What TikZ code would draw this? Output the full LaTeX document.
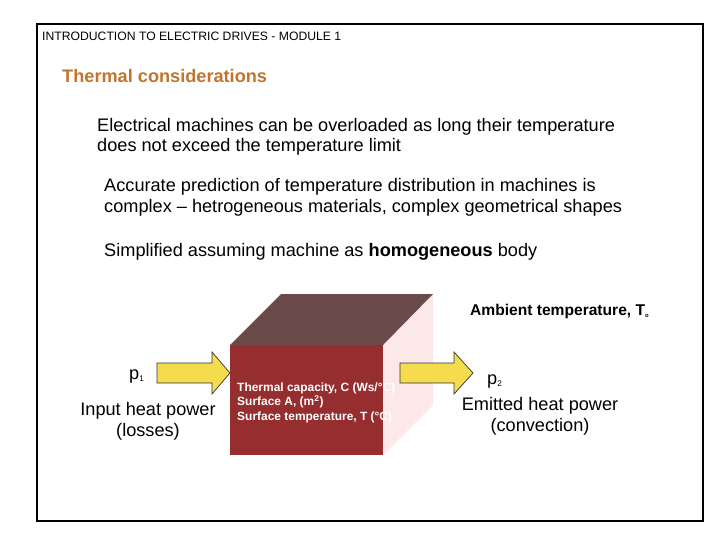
\documentclass[tikz,border=0pt]{standalone}
\usepackage{fontspec}
\setmainfont{Liberation Sans}
\definecolor{titleorange}{HTML}{C0752C}
\definecolor{frontred}{HTML}{962D2E}
\definecolor{topbrown}{HTML}{6B4A4A}
\definecolor{sidepink}{HTML}{FDE8E8}
\definecolor{arrowyellow}{HTML}{F5DB4E}
\tikzset{
    bodytext/.style = {anchor=west, inner sep=0pt, font=\fontsize{15.5}{17}\selectfont},
    smalllabel/.style = {anchor=west, inner sep=0pt, font=\bfseries\fontsize{10.2}{12.3}\selectfont, text=white, align=left},
    caption/.style = {inner sep=0pt, align=center, font=\fontsize{15.5}{18}\selectfont}
}
\begin{document}
\begin{tikzpicture}[x=0.03cm, y=-0.03cm]
            \useasboundingbox (0,0) rectangle (728,546);
            \draw[line width=1pt] (37,24) rectangle (703,521);
            \node[anchor=west, inner sep=0pt, font=\fontsize{10.4}{12}\selectfont] (header) at (42,36) {INTRODUCTION TO ELECTRIC DRIVES - MODULE 1};
            \node[anchor=west, inner sep=0pt, font=\bfseries\fontsize{15.5}{17}\selectfont, text=titleorange] (title) at (62,76) {Thermal considerations};
            \node[bodytext] (lineA) at (97,127) {Electrical machines can be overloaded as long their temperature};
            \node[bodytext] (lineB) at (97,147) {does not exceed the temperature limit};
            \node[bodytext] (lineC) at (104,187) {Accurate prediction of temperature distribution in machines is};
            \node[bodytext] (lineD) at (104,208) {complex -- hetrogeneous materials, complex geometrical shapes};
            \node[bodytext] (lineE) at (104,252) {Simplified assuming machine as \textbf{homogeneous} body};
            % cube
            \fill[sidepink] (383,345) -- (433,294) -- (433,405) -- (383,455) -- cycle;
            \fill[topbrown] (230,345) -- (281,294) -- (433,294) -- (383,345) -- cycle;
            \fill[frontred] (230,345) rectangle (383,455);
            \node[smalllabel] (props) at (237,402.5) {Thermal capacity, C (Ws/°C)\\Surface A, (m\textsuperscript{2})\\Surface temperature, T (°C)};
            % heat flow arrows
            \filldraw[
                fill = arrowyellow,
                draw = black!80,
                line width = 0.6pt
            ]
            (157,363) -- (212,363) -- (212,352) -- (230,373) -- (212,394) -- (212,383) -- (157,383) -- cycle;
            \filldraw[
                fill = arrowyellow,
                draw = black!80,
                line width = 0.6pt
            ]
            (400,363) -- (454,363) -- (454,352) -- (473,373) -- (454,394) -- (454,383) -- (400,383) -- cycle;
            \node[anchor=west, inner sep=0pt, font=\bfseries\fontsize{13.3}{15}\selectfont] (ambient) at (470,311) {Ambient temperature, T\textsubscript{\tiny o}};
            \node[anchor=west, inner sep=0pt, font=\fontsize{15.5}{17}\selectfont] (pin) at (129,376) {p\textsubscript{\scriptsize 1}};
            \node[caption] (incap) at (148,421) {Input heat power\\(losses)};
            \node[anchor=west, inner sep=0pt, font=\fontsize{15.5}{17}\selectfont] (pout) at (487,381) {p\textsubscript{\scriptsize 2}};
            \node[caption] (outcap) at (540,416) {Emitted heat power\\(convection)};
        \end{tikzpicture}
\end{document}
